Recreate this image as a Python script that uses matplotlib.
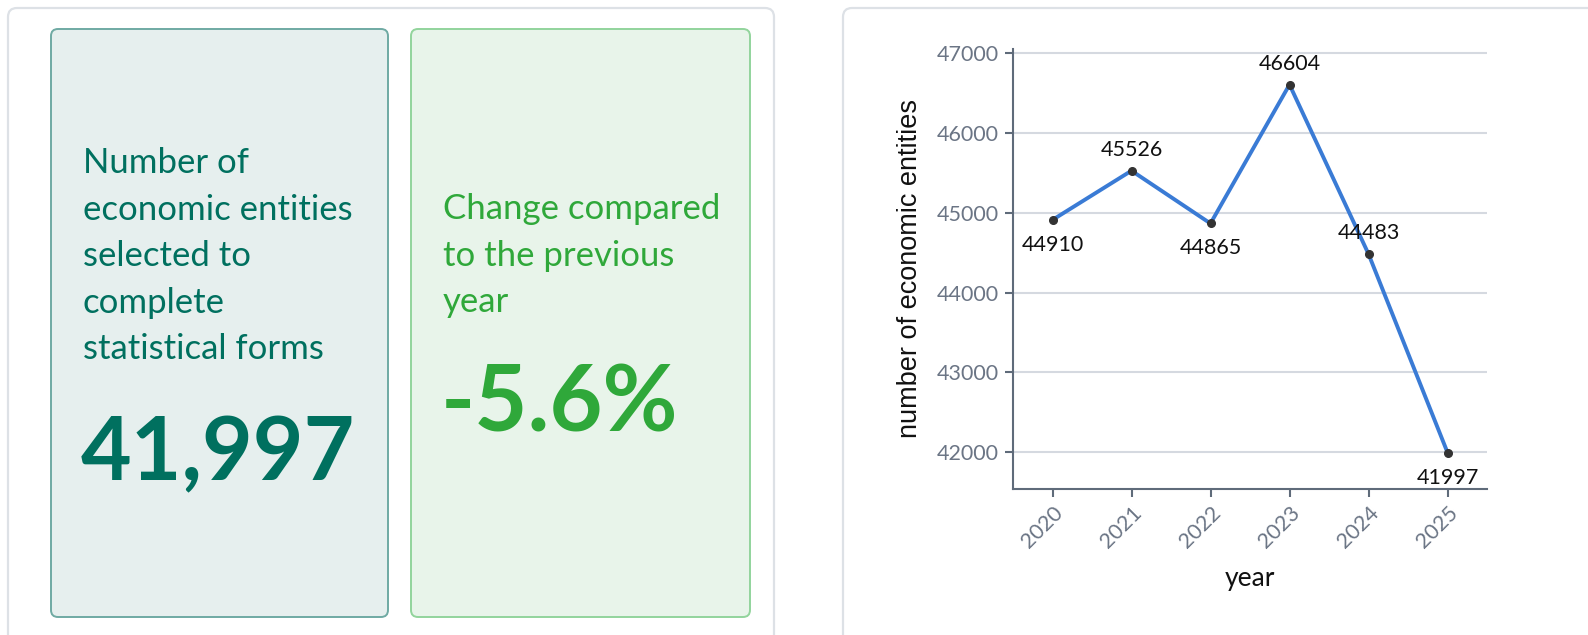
import matplotlib
matplotlib.use("Agg")
import matplotlib.pyplot as plt
from matplotlib.patches import FancyBboxPatch

# data
years = [2020, 2021, 2022, 2023, 2024, 2025]
entities = [44910, 45526, 44865, 46604, 44483, 41997]
label_above = [False, True, False, True, True, False]
yticks = [42000, 43000, 44000, 45000, 46000, 47000]

kpi_title = "Number of\neconomic entities\nselected to\ncomplete\nstatistical forms"
kpi_value = "41,997"
change_title = "Change compared\nto the previous\nyear"
change_value = "-5.6%"

W, H = 1588, 635
fig = plt.figure(figsize=(W / 100, H / 100), dpi=100)
fig.patch.set_facecolor("white")

# background layer in pixel coordinates
bg = fig.add_axes([0, 0, 1, 1])
bg.set_xlim(0, W)
bg.set_ylim(H, 0)
bg.axis("off")


def card(x0, y0, x1, y1, face, edge, r=7, lw=1.4):
    p = FancyBboxPatch((x0, y0), x1 - x0, y1 - y0,
                       boxstyle=f"round,pad=0,rounding_size={r}",
                       facecolor=face, edgecolor=edge, linewidth=lw)
    bg.add_patch(p)


# outer cards
card(8, 8, 774, 660, "white", "#dde1e6", r=9, lw=1.6)
card(843, 8, 1610, 660, "white", "#dde1e6", r=9, lw=1.6)
# kpi cards
card(51, 29, 388, 617, "#e6efee", "#6faaa3")
card(411, 29, 750, 617, "#e8f4ea", "#92d49c")

teal = "#00705f"
green = "#2fa83a"
card_font = "Lato"

bg.text(83, 147, kpi_title, fontsize=25, color=teal, family=card_font,
        va="top", ha="left", linespacing=1.56)
bg.text(81, 455, kpi_value, fontsize=63, color=teal, family=card_font,
        fontweight="bold", va="center", ha="left")
bg.text(443, 193, change_title, fontsize=25, color=green, family=card_font,
        va="top", ha="left", linespacing=1.56)
bg.text(441, 406, change_value, fontsize=66, color=green, family=card_font,
        fontweight="bold", va="center", ha="left")

# line chart
left, right, top, bottom = 1013, 1487, 49, 489
ax = fig.add_axes([left / W, (H - bottom) / H, (right - left) / W, (bottom - top) / H])
ax.set_facecolor("none")
ax.plot(years, entities, color="#3a7bd5", linewidth=2.8, zorder=3)
ax.plot(years, entities, "o", color="#333333", markersize=5.5, zorder=4)

for x, y, up in zip(years, entities, label_above):
    ax.annotate(str(y), (x, y), xytext=(0, 15 if up else -18),
                textcoords="offset points", ha="center", va="center",
                fontsize=15.5, color="#111111", family=card_font)

ax.set_xlim(2019.5, 2025.5)
ax.set_ylim(41540, 47050)
ax.set_xticks(years)
ax.set_xticklabels([str(y) for y in years], rotation=45, ha="right",
                   rotation_mode="anchor", fontsize=15.5, color="#6b7585", family=card_font)
ax.set_yticks(yticks)
ax.set_yticklabels([str(v) for v in yticks], fontsize=15.5, color="#6b7585", family=card_font)
ax.grid(axis="y", color="#d5d9e0", linewidth=1.5)
ax.set_axisbelow(True)
for s in ["top", "right"]:
    ax.spines[s].set_visible(False)
for s in ["left", "bottom"]:
    ax.spines[s].set_color("#5f6b7a")
    ax.spines[s].set_linewidth(1.5)
ax.tick_params(axis="both", colors="#5f6b7a", length=6, width=1.5, pad=4)
for lab in ax.get_xticklabels() + ax.get_yticklabels():
    lab.set_color("#6b7585")

ax.set_xlabel("year", fontsize=19, color="#111111", family=card_font, labelpad=10)
ax.set_ylabel("number of economic entities", fontsize=19.5, color="#111111",
              family="Liberation Sans", labelpad=10)

fig.savefig("out.png", dpi=100)
